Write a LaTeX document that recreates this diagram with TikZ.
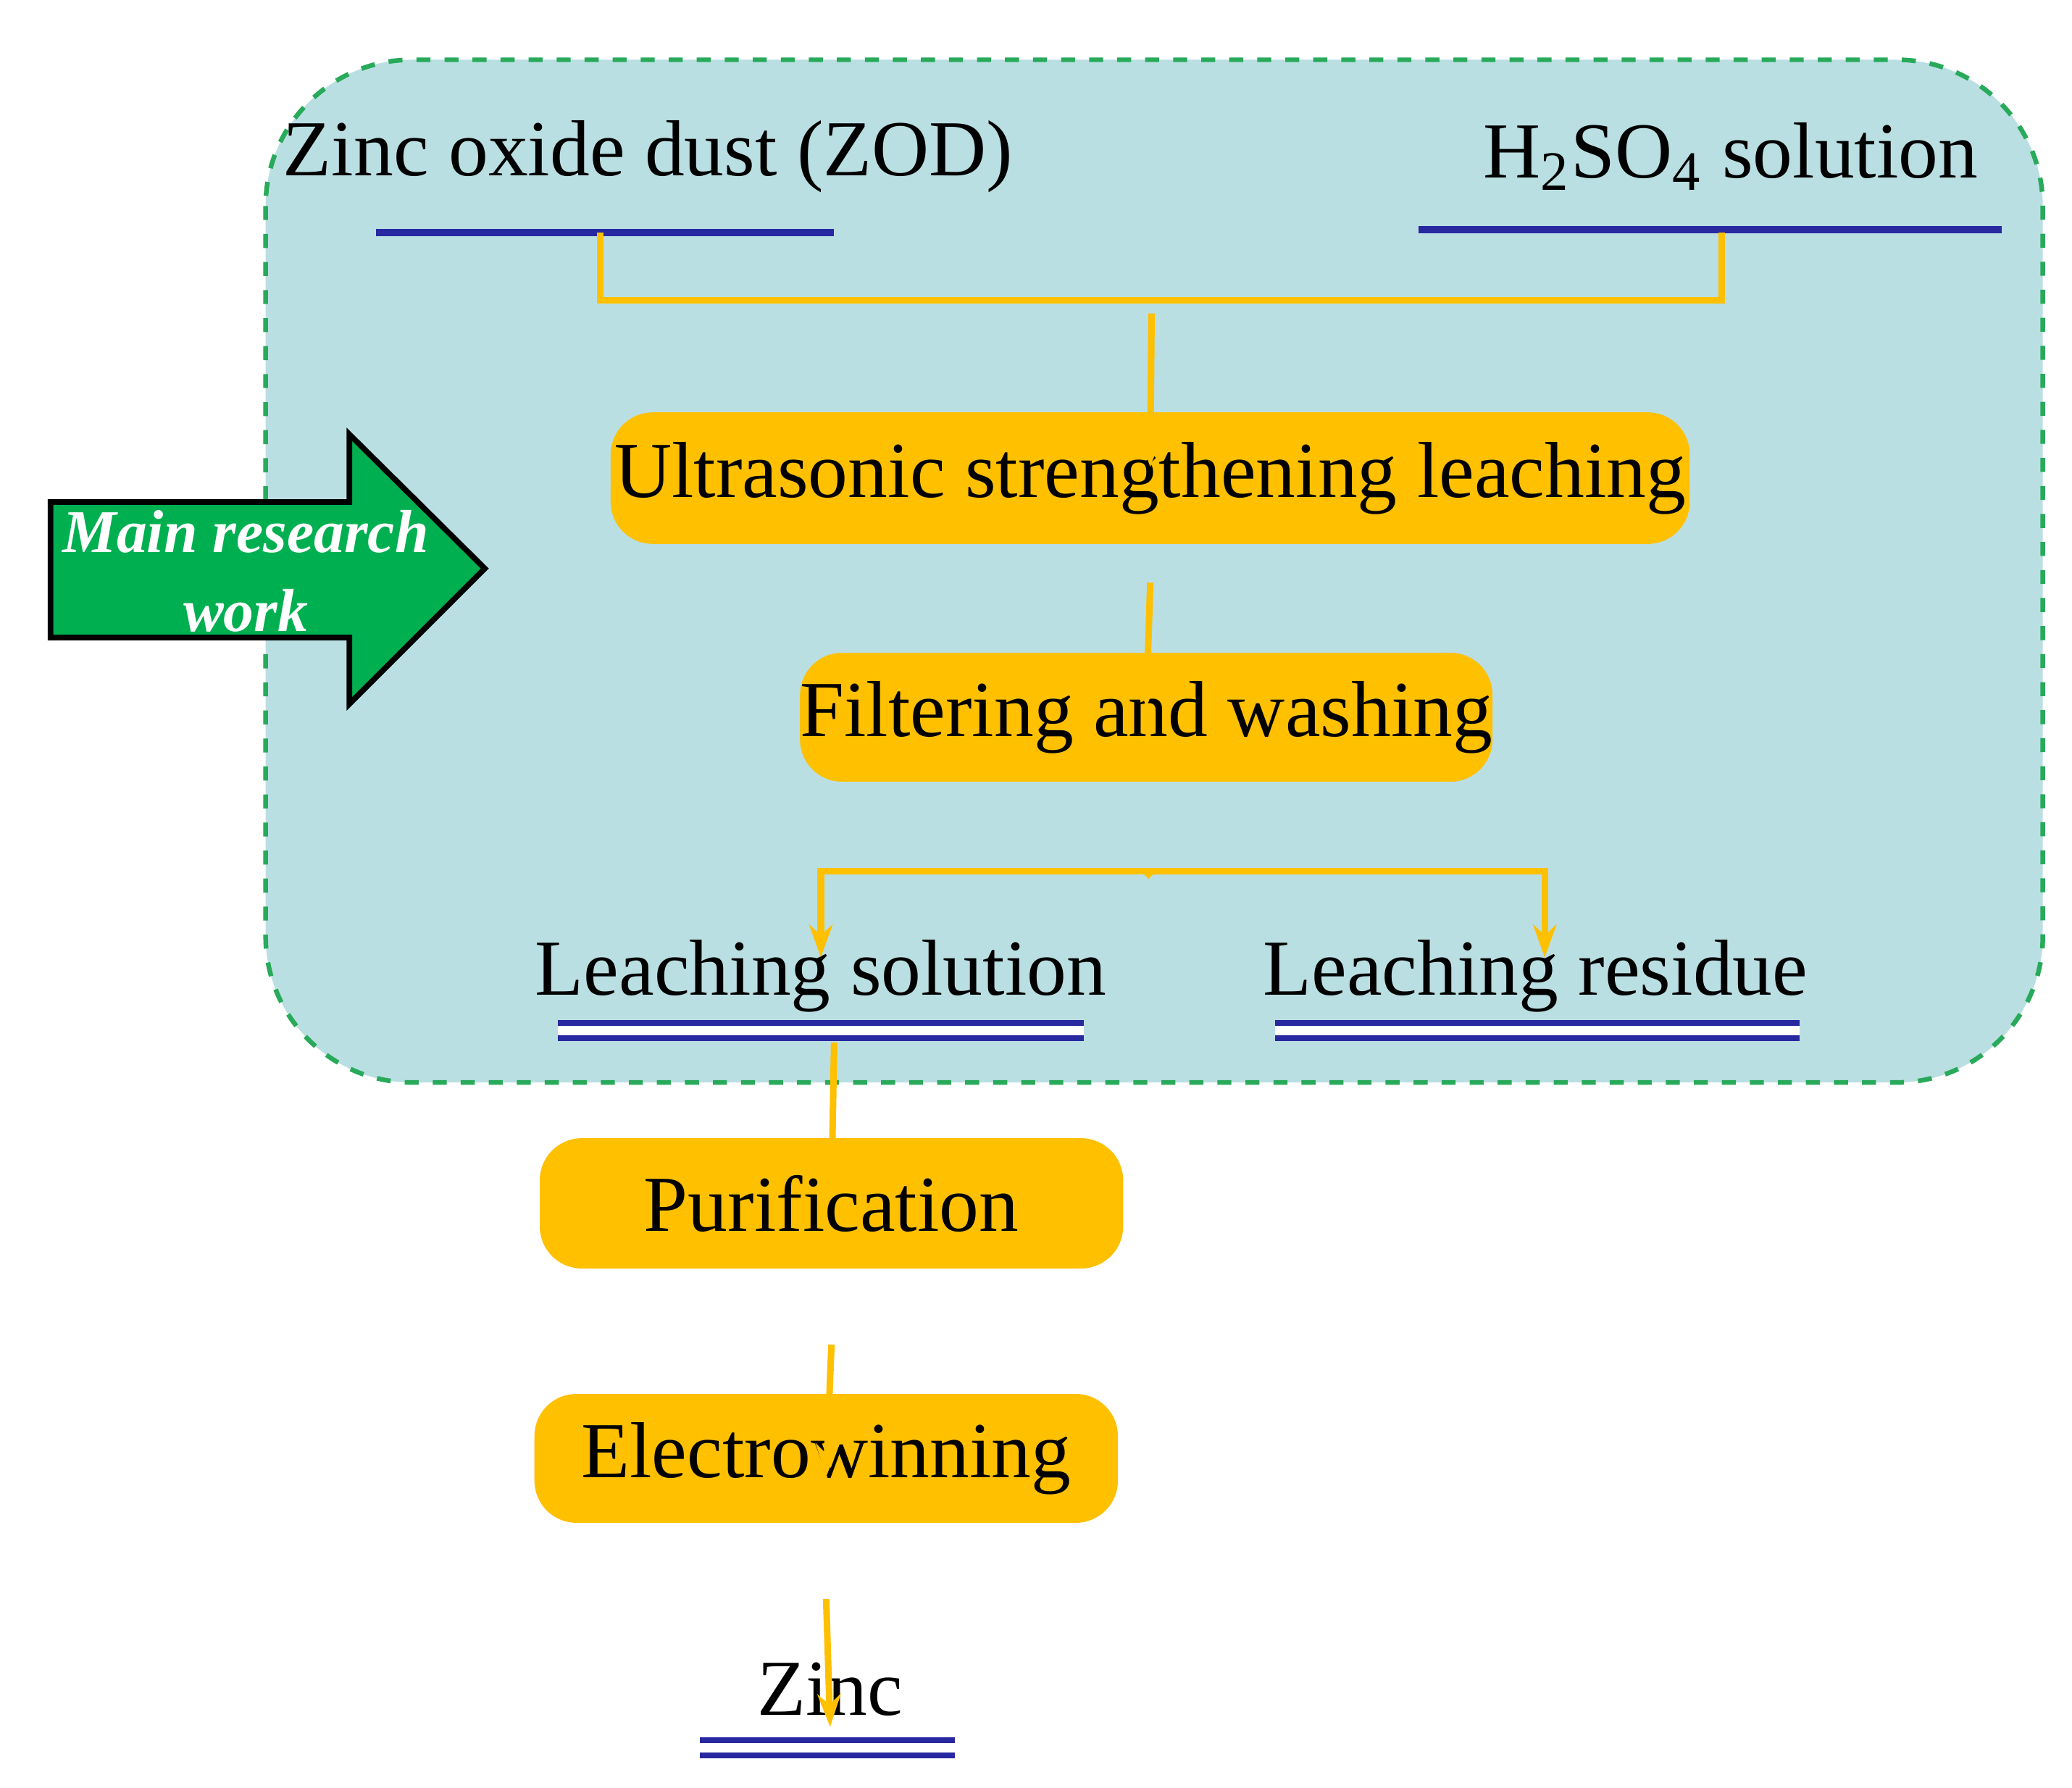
\documentclass[tikz,border=0pt]{standalone}
\usepackage{fontspec}
\setmainfont{Liberation Serif}
\usetikzlibrary{arrows.meta,positioning}

\definecolor{boxorange}{RGB}{255,192,0}
\definecolor{panelteal}{RGB}{186,223,227}
\definecolor{dashgreen}{RGB}{40,170,90}
\definecolor{lineblue}{RGB}{40,40,160}
\definecolor{arrowgreen}{RGB}{0,176,80}

\tikzset{
  stage/.style={fill=boxorange,rounded corners=9pt,inner sep=0pt,font=\fontsize{17}{20}\selectfont},
  tag/.style={font=\fontsize{17}{20}\selectfont,inner sep=0pt},
  flow/.style={->,>={Stealth[length=7pt,width=5pt]},boxorange,line width=1.4pt},
  feed/.style={boxorange,line width=1.4pt},
  singlerule/.style={lineblue,line width=1.6pt},
  doublerule/.style={lineblue,line width=1.2pt,double distance=2pt}
}

\begin{document}
\begin{tikzpicture}[x=0.01cm,y=-0.01cm,semithick]

    \useasboundingbox (0,0) rectangle (1560,1346);

    % Research panel
    \draw [dashgreen,dashed,fill=panelteal,line width=1pt,rounded corners=1.1cm] (200,45) rectangle (1538,815);

    % Feed materials
    \node [tag] (zod) at (488,118) {Zinc oxide dust (ZOD)};
    \node [tag] (acid) at (1303,118) {H\textsubscript{2}SO\textsubscript{4} solution};
    \draw [singlerule] (283,175) -- (628,175);
    \draw [singlerule] (1068,173) -- (1507,173);
    \coordinate (zodfoot) at (452,175);
    \coordinate (acidfoot) at (1296,175);
    \coordinate (join) at (867,236);
    \draw [feed] (zodfoot) |- (874,226) -| (acidfoot);

    % Process steps
    \node [stage,minimum width=8.12cm,minimum height=0.99cm] (leach) at (866,360) {Ultrasonic strengthening leaching};
    \node [stage,minimum width=5.08cm,minimum height=0.97cm] (filter) at (863,540) {Filtering and washing};
    \node [tag] (sol) at (618,735) {Leaching solution};
    \node [tag] (res) at (1156,735) {Leaching residue};
    \draw [doublerule] (420,776) -- (816,776);
    \draw [doublerule] (960,776) -- (1355,776);
    \node [stage,minimum width=4.39cm,minimum height=0.98cm] (purify) at (626,906) {Purification};
    \node [stage,minimum width=4.39cm,minimum height=0.97cm] (ewin) at (622,1098) {Electrowinning};
    \node [tag] (zinc) at (625,1272) {Zinc};
    \draw [doublerule] (527,1316) -- (719,1316);

    % Connectors
    \draw [flow] (join) -- ([yshift=-12pt]leach.north);
    \draw [flow] ([yshift=-8pt]leach.south) -- ([yshift=-12pt]filter.north);
    \coordinate (split) at (867,656);
    \draw [feed] ([yshift=-20pt]filter.south) -- (split);
    \draw [flow] (split) -| ([yshift=-4pt]sol.north);
    \draw [flow] (split) -| ([yshift=-4pt,xshift=2pt]res.north);
    \coordinate (solfoot) at (628,785);
    \draw [flow] (solfoot) -- ([yshift=-12pt]purify.north);
    \draw [flow] ([yshift=-16pt]purify.south) -- ([yshift=-18pt]ewin.north);
    \draw [flow] ([yshift=-16pt]ewin.south) -- ([yshift=-14pt]zinc.north);

    % Main research work arrow
    \draw [black,line width=1.2pt,fill=arrowgreen] (38,378) -- (263,378) -- (263,327) -- (365,428) -- (263,530) -- (263,480) -- (38,480) -- cycle;
    \node [align=center,text=white,font=\fontsize{13}{17}\selectfont\bfseries\itshape] (main) at (185,430) {Main research\\work};

\end{tikzpicture}
\end{document}
